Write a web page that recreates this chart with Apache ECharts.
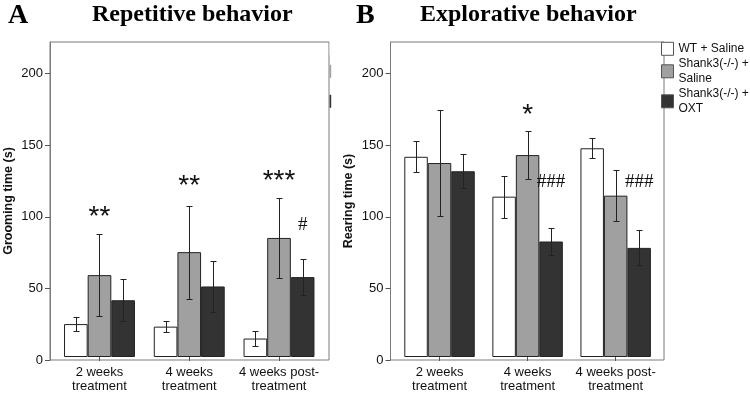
<!DOCTYPE html>
<html>
<head>
<meta charset="utf-8">
<script src="https://cdn.jsdelivr.net/npm/echarts@6/dist/echarts.min.js"></script>
<style>
html,body{margin:0;padding:0;background:#fff}
#chart{width:750px;height:393px}
</style>
</head>
<body>
<div id="chart"></div>
<script>
var categories = ['2 weeks\ntreatment', '4 weeks\ntreatment', '4 weeks post-\ntreatment'];
var groupNames = ['WT + Saline', 'Shank3(-/-) +\nSaline', 'Shank3(-/-) +\nOXT'];
var groupColors = ['#ffffff', '#a0a0a0', '#333333'];
var yTicks = [0, 50, 100, 150, 200];

// grooming time (s): mean and error per group, one value per category
var groomWT = [23.2, 21.4, 13.0];
var groomSaline = [57.7, 73.9, 83.9];
var groomOXT = [40.0, 49.7, 56.3];
var groomWTErr = [5, 4, 5];
var groomSalineErr = [29, 32.7, 28.3];
var groomOXTErr = [14.7, 18, 12.7];

// rearing time (s)
var rearWT = [141.1, 113.0, 147.1];
var rearSaline = [136.7, 142.3, 113.7];
var rearOXT = [130.9, 81.4, 76.9];
var rearWTErr = [11, 14.7, 7];
var rearSalineErr = [37.5, 17, 18];
var rearOXTErr = [12, 9.8, 12.4];

// significance marks: [category, group, text, height]
var groomMarks = [[0, 1, '**', 98.5], [1, 1, '**', 120.5], [2, 1, '***', 123.5], [2, 2, '#', 93]];
var rearMarks = [[1, 1, '*', 170.5], [1, 2, '###', 123.3], [2, 2, '###', 123.3]];

var yMax = 222;
var sans = 'Liberation Sans, Arial, sans-serif';
var serif = 'Liberation Serif, Times New Roman, serif';

function barSeries(means, axis, gap) {
    return means.map(function (d, k) {
        return {
            name: groupNames[k],
            type: 'bar',
            xAxisIndex: axis,
            yAxisIndex: axis,
            data: d,
            barGap: '0%',
            barCategoryGap: gap + '%',
            itemStyle: {color: groupColors[k], borderColor: '#222', borderWidth: 1},
            emphasis: {disabled: true}
        };
    });
}

function errSeries(means, errs, axis, gap) {
    var rows = [];
    means.forEach(function (d, k) {
        d.forEach(function (v, i) {
            rows.push([i, k, v - errs[k][i], v + errs[k][i]]);
        });
    });
    return {
        type: 'custom',
        xAxisIndex: axis,
        yAxisIndex: axis,
        z: 5,
        encode: {x: 0, y: [2, 3]},
        data: rows,
        renderItem: function (params, api) {
            var band = api.size([1, 0])[0];
            var bw = band * (1 - gap / 100) / 3;
            var cx = Math.round(api.coord([api.value(0), 0])[0] + (api.value(1) - 1) * bw) + 0.5;
            var lo = Math.round(api.coord([api.value(0), api.value(2)])[1]) + 0.5;
            var hi = Math.round(api.coord([api.value(0), api.value(3)])[1]) + 0.5;
            var st = {stroke: '#222', lineWidth: 1};
            return {
                type: 'group',
                children: [
                    {type: 'line', shape: {x1: cx, y1: lo, x2: cx, y2: hi}, style: st},
                    {type: 'line', shape: {x1: cx - 3, y1: lo, x2: cx + 3, y2: lo}, style: st},
                    {type: 'line', shape: {x1: cx - 3, y1: hi, x2: cx + 3, y2: hi}, style: st}
                ]
            };
        }
    };
}

function markSeries(marks, axis, gap) {
    return {
        type: 'custom',
        xAxisIndex: axis,
        yAxisIndex: axis,
        z: 6,
        encode: {x: 0, y: 3},
        data: marks,
        renderItem: function (params, api) {
            var band = api.size([1, 0])[0];
            var bw = band * (1 - gap / 100) / 3;
            var m = marks[params.dataIndex];
            var cx = api.coord([m[0], 0])[0] + (m[1] - 1) * bw;
            var cy = api.coord([m[0], m[3]])[1];
            var star = m[2].charAt(0) === '*';
            return {
                type: 'text',
                x: cx,
                y: cy,
                style: {
                    text: m[2],
                    align: 'center',
                    verticalAlign: 'middle',
                    fontFamily: star ? sans : serif,
                    fontSize: star ? 28 : 19,
                    fill: '#111'
                }
            };
        }
    };
}

function frameAxisY(grid, name) {
    return {
        gridIndex: grid, type: 'value', min: 0, max: yMax,
        axisLine: {show: true, lineStyle: {color: '#7a7a7a'}},
        axisTick: {show: true, length: 5, customValues: yTicks, lineStyle: {color: '#555'}},
        axisLabel: {fontSize: 13, color: '#111', margin: 7, fontFamily: sans, customValues: yTicks},
        splitLine: {show: false},
        name: name, nameLocation: 'middle', nameGap: 35,
        nameTextStyle: {fontSize: 12.5, fontWeight: 'bold', color: '#111', fontFamily: sans}
    };
}

function barAxisX(grid) {
    return {
        gridIndex: grid, type: 'category', data: categories,
        axisLine: {show: false},
        axisTick: {show: true, alignWithLabel: true, length: 4, lineStyle: {color: '#555'}},
        axisLabel: {interval: 0, fontSize: 13, lineHeight: 14, color: '#111', margin: 8, fontFamily: sans}
    };
}

function legendAt(left, iconWidth, textColor) {
    return {
        data: groupNames,
        orient: 'vertical',
        left: left, top: 39.3, padding: 0,
        itemWidth: iconWidth, itemHeight: 13, itemGap: -4,
        icon: 'rect',
        selectedMode: false,
        itemStyle: {borderColor: '#555', borderWidth: iconWidth > 2 ? 1 : 0},
        textStyle: {fontSize: 12, lineHeight: 15, padding: [4, 0, 0, 0], color: textColor, fontFamily: sans}
    };
}

var gapA = 21, gapB = 20;
var meansA = [groomWT, groomSaline, groomOXT];
var errsA = [groomWTErr, groomSalineErr, groomOXTErr];
var meansB = [rearWT, rearSaline, rearOXT];
var errsB = [rearWTErr, rearSalineErr, rearOXTErr];

var titleStyle = function (size) {
    return {fontFamily: serif, fontWeight: 'bold', fontSize: size, color: '#000'};
};

var option = {
    animation: false,
    title: [
        {text: 'A', left: 8, top: 2, padding: 0, textStyle: titleStyle(28)},
        {text: 'Repetitive behavior', left: 92, top: 3, padding: 0, textStyle: titleStyle(24)},
        {text: 'B', left: 356, top: 2, padding: 0, textStyle: titleStyle(28)},
        {text: 'Explorative behavior', left: 420, top: 3, padding: 0, textStyle: titleStyle(24)}
    ],
    // full legend at the right, plus the cut-off sliver of panel A's legend at its frame
    legend: [
        legendAt(661, 12, '#111'),
        legendAt(329.6, 1.6, 'rgba(0,0,0,0)')
    ],
    grid: [
        {left: 50, top: 42, width: 279, height: 318, show: true, borderColor: '#7a7a7a', borderWidth: 1},
        {left: 54.6, top: 42, width: 269.3, height: 318},
        {left: 390.5, top: 42, width: 273.5, height: 318, show: true, borderColor: '#7a7a7a', borderWidth: 1},
        {left: 395.5, top: 42, width: 264.2, height: 318}
    ],
    xAxis: [
        {gridIndex: 0, type: 'value', show: false},
        barAxisX(1),
        {gridIndex: 2, type: 'value', show: false},
        barAxisX(3)
    ],
    yAxis: [
        frameAxisY(0, 'Grooming time (s)'),
        {gridIndex: 1, type: 'value', min: 0, max: yMax, show: false},
        frameAxisY(2, 'Rearing time (s)'),
        {gridIndex: 3, type: 'value', min: 0, max: yMax, show: false}
    ],
    series: [].concat(
        barSeries(meansA, 1, gapA),
        [errSeries(meansA, errsA, 1, gapA), markSeries(groomMarks, 1, gapA)],
        barSeries(meansB, 3, gapB),
        [errSeries(meansB, errsB, 3, gapB), markSeries(rearMarks, 3, gapB)]
    )
};

var chart = echarts.init(document.getElementById('chart'));
chart.setOption(option);
</script>
</body>
</html>
